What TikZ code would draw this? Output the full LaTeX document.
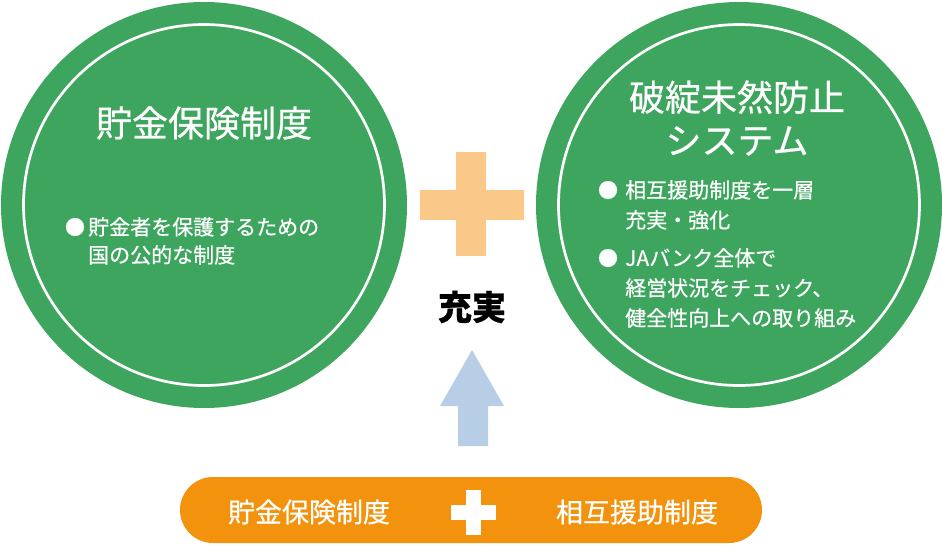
\documentclass[tikz,border=0pt]{standalone}
\usepackage{fontspec}
\setmainfont{Noto Sans CJK JP}[FakeBold=0.6]
\definecolor{jagreen}{RGB}{61,165,93}
\definecolor{pluslight}{RGB}{250,201,138}
\definecolor{pillorange}{RGB}{243,146,12}
\definecolor{arrowblue}{RGB}{184,206,230}
\begin{document}
\begin{tikzpicture}[x=1pt, y=-1pt, line join=round, line cap=round,
  bigcircle/.style={circle, fill=jagreen, minimum size=406pt, inner sep=0pt},
  whitering/.style={circle, draw=white, line width=2.7pt, minimum size=361pt, inner sep=0pt},
  titletext/.style={white, font=\fontsize{36}{43}\selectfont, align=center},
  bodytext/.style={white, align=left, anchor=north west, inner sep=0pt},
  dot/.style={white, font=\fontsize{20}{24}\selectfont, inner sep=0pt},
  pilltext/.style={white, font=\fontsize{27}{30}\selectfont}]
\useasboundingbox (0,0) rectangle (942,544);
% left circle
\node[bigcircle] (savings) at (204,205) {};
\node[whitering] (savingsring) at (204,205) {};
\node[titletext] (savingstitle) at (204,123) {貯金保険制度};
\node[dot] (savingsdot) at (75,227) {●};
\node[bodytext, font=\fontsize{21}{28}\selectfont] (savingsbody) at (88,217) {貯金者を保護するための\\国の公的な制度};
% right circle
\node[bigcircle] (prevent) at (739,205) {};
\node[whitering] (preventring) at (739,205) {};
\node[titletext] (preventtitle) at (737,118) {破綻未然防止\\システム};
\node[dot] (preventdota) at (608,190) {●};
\node[bodytext, font=\fontsize{21}{30}\selectfont] (preventbodya) at (625,180) {相互援助制度を一層\\充実・強化};
\node[dot] (preventdotb) at (608,258) {●};
\node[bodytext, font=\fontsize{21}{30}\selectfont] (preventbodyb) at (625,248) {JAバンク全体で\\経営状況をチェック、\\健全性向上への取り組み};
% plus and arrow
\fill[pluslight] (456,152) rectangle (486,256);
\fill[pluslight] (420,190) rectangle (524,220);
\node[font=\fontsize{34}{40}\selectfont\bfseries] (enhance) at (472,307) {充実};
\fill[arrowblue] (472,350) -- (504,406) -- (488,406) -- (488,446) -- (458,446) -- (458,406) -- (440,406) -- cycle;
% bottom bar
\fill[pillorange, rounded corners=33pt] (180,477) rectangle (762,543);
\node[pilltext] (pillsavings) at (309,512) {貯金保険制度};
\fill[white] (466,490) rectangle (481,535);
\fill[white] (451,505) rectangle (496,520);
\node[pilltext] (pillmutual) at (637,512) {相互援助制度};
\end{tikzpicture}
\end{document}
